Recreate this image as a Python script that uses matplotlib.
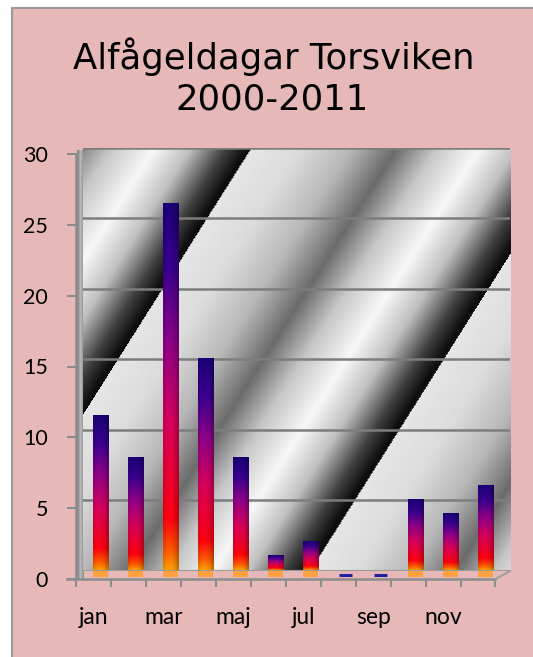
import numpy as np
import matplotlib
matplotlib.use('Agg')
import matplotlib.pyplot as plt
from matplotlib.patches import Rectangle
from matplotlib.lines import Line2D
from matplotlib.colors import LinearSegmentedColormap

# ---------------- data ----------------
months = ['jan', 'feb', 'mar', 'apr', 'maj', 'jun', 'jul', 'aug', 'sep', 'okt', 'nov', 'dec']
days = [11, 8, 26, 15, 8, 1, 2, 0, 0, 5, 4, 6]
yticks = [0, 5, 10, 15, 20, 25, 30]
title_lines = ['Alfågeldagar Torsviken', '2000-2011']

# ---------------- figure ----------------
W, H = 533, 657
DPI = 100
fig = plt.figure(figsize=(W / DPI, H / DPI), dpi=DPI)
fig.patch.set_facecolor('white')


def rect(x0, y0, x1, y1):
    """pixel box (top-left origin) -> figure fraction [l, b, w, h]"""
    return [x0 / W, 1 - y1 / H, (x1 - x0) / W, (y1 - y0) / H]


def fx(x):
    return x / W


def fy(y):
    return 1 - y / H


PINK = '#e6b9b8'
GRAY = '#8c8c8c'
fig.patches.append(Rectangle((fx(12), 0), 1, fy(8), transform=fig.transFigure,
                             facecolor=PINK, edgecolor='none', zorder=-10))
fig.add_artist(Line2D([fx(12), fx(12)], [0, fy(8)], color='#9a9a9a', lw=1.5, zorder=-5))
fig.add_artist(Line2D([fx(12), 1], [fy(8), fy(8)], color='#9a9a9a', lw=1.5, zorder=-5))

# ---------------- title ----------------
fig.text(fx(274), fy(69), title_lines[0], ha='center', va='baseline',
         fontsize=25.5, family='DejaVu Sans', color='black')
fig.text(fx(272), fy(110), title_lines[1], ha='center', va='baseline',
         fontsize=25.5, family='DejaVu Sans', color='black')

# ---------------- side wall ----------------
sw = fig.add_axes(rect(77, 150, 84, 579))
sw.imshow([[0.50, 0.62, 0.72, 0.66, 0.58]], cmap='gray', vmin=0, vmax=1,
          aspect='auto', interpolation='bilinear')
sw.axis('off')

# ---------------- back wall + bars ----------------
bx = fig.add_axes(rect(83, 148, 510, 570.5))
bx.set_facecolor('none')
x0p, x1p, y0p, y1p = 83, 510, 148, 570.5
xs = np.arange(x0p, x1p) + 0.5
ys = np.arange(int(y0p), int(np.ceil(y1p))) + 0.5
XX, YY = np.meshgrid(xs, ys)
s = XX + 0.63 * YY
off = (s - 345) % 325
stops_x = [0, 50, 100, 145, 185, 228, 265, 300, 320, 325]
stops_v = [0.90, 0.86, 0.72, 0.42, 0.78, 0.97, 0.75, 0.25, 0.06, 0.05]
wall = np.interp(off, stops_x, stops_v)
XMAX = 11.7
bx.imshow(wall, cmap='gray', vmin=0, vmax=1, extent=(-0.5, XMAX, 0, 30),
          origin='upper', aspect='auto', interpolation='bilinear', zorder=0)

for v in yticks[1:]:
    bx.axhline(v, color='#7d7d7d', lw=1.8, zorder=1)
bx.axhline(0, color='#9a9a9a', lw=1.5, zorder=1)

bar_cmap = LinearSegmentedColormap.from_list('bars', [
    (0.00, '#ffa000'), (0.05, '#ff5a00'), (0.14, '#ff0010'),
    (0.40, '#d8005c'), (0.62, '#900088'), (0.82, '#3a0090'), (1.00, '#1c0078')])
BW = 0.43
u = np.linspace(0, 1, 24)
shade = 1 - 0.28 * ((u - 0.4) / 0.6) ** 2
grad = bar_cmap(np.linspace(0, 1, 256))[:, :3]
bar_img = grad[:, None, :] * shade[None, :, None]

for i, v in enumerate(days):
    if v > 0:
        bx.imshow(bar_img, extent=(i - BW / 2, i + BW / 2, 0, v), origin='lower',
                  aspect='auto', interpolation='bilinear', zorder=3)
        bx.bar(i, -0.45, width=BW, bottom=0, color='#ffa040', zorder=3, clip_on=False)
    else:
        bx.bar(i, v, width=BW * 0.9, bottom=-0.3, fill=False, edgecolor='#2020a0',
               lw=2.2, zorder=3, clip_on=False)

bx.set_xlim(-0.5, XMAX)
bx.set_ylim(0, 30)
bx.axis('off')

# ---------------- front axes (axis lines, ticks, labels) ----------------
ax = fig.add_axes(rect(76, 154, 495.5, 579))
ax.set_facecolor('none')
ax.set_xlim(-0.5, 11.5)
ax.set_ylim(0, 30)
for side in ['top', 'right']:
    ax.spines[side].set_visible(False)
for side in ['left', 'bottom']:
    ax.spines[side].set_color(GRAY)
    ax.spines[side].set_linewidth(1.8)

ax.set_yticks(yticks)
ax.set_yticklabels([str(t) for t in yticks])
ax.tick_params(axis='y', direction='out', length=6.5, width=1.5, color=GRAY,
               pad=13.5, labelsize=15.5, labelcolor='black')
ax.set_xticks(range(0, 12, 2))
ax.set_xticklabels(months[::2])
ax.set_xticks(np.arange(-0.5, 12, 1), minor=True)
ax.tick_params(axis='x', which='major', length=0, pad=20, labelsize=16.5, labelcolor='black')
ax.tick_params(axis='x', which='minor', direction='out', length=5.8, width=1.5, color=GRAY)
for lab in ax.get_xticklabels() + ax.get_yticklabels():
    lab.set_family('Lato')
ax.axhline(0, xmin=-9 / 419.5, xmax=0, color=GRAY, lw=1.8, clip_on=False)

fig.add_artist(Line2D([fx(495.5), fx(510)], [fy(579), fy(571)], color='#a0a0a0', lw=1.5))

fig.savefig('out.png', dpi=DPI, facecolor=fig.get_facecolor())
